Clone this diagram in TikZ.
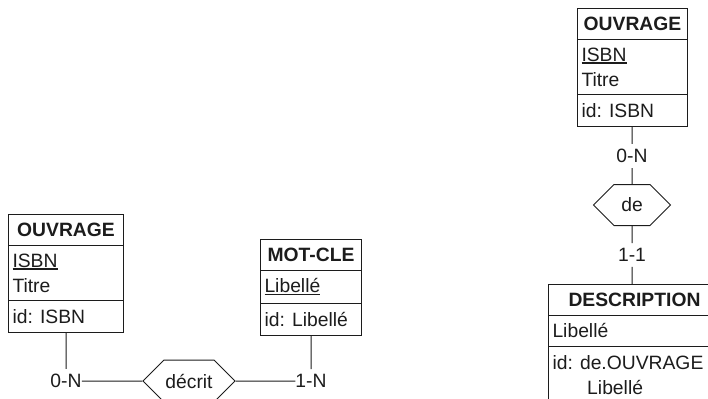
\documentclass[tikz,border=0pt]{standalone}
\usepackage{fontspec}
\setmainfont{Liberation Sans}
\usetikzlibrary{shapes.multipart,shapes.symbols}
\definecolor{ink}{HTML}{1C1C1C}
\newcommand{\keyattr}[1]{\setbox0\hbox{#1}\rlap{\rule[-2.6bp]{\wd0}{1.3bp}}\box0}
\tikzset{
  entity/.style={rectangle split, rectangle split parts=3, draw=ink, line width=1bp,
    rectangle split part align={center,left,left}, align=left, anchor=north west,
    inner xsep=4bp, inner ysep=8bp, font=\fontsize{19.3bp}{25bp}\selectfont, text=ink},
  relation/.style={signal, signal to=west and east, draw=ink, line width=1bp,
    inner sep=0pt, font=\fontsize{19.3bp}{25bp}\selectfont, text=ink},
  card/.style={inner xsep=0pt, inner ysep=5bp, font=\fontsize{19.3bp}{25bp}\selectfont, text=ink},
  link/.style={draw=ink, line width=1bp},
}

\begin{document}
\begin{tikzpicture}[x=1bp,y=-1bp]
\useasboundingbox (0,0) rectangle (708,398);
\clip (0,0) rectangle (708,398);

% OUVRAGE - decrit - MOT-CLE
\node[entity, minimum width=115bp] (ouv1) at (8,214) {\textbf{OUVRAGE}
  \nodepart{two}\keyattr{ISBN}\\Titre
  \nodepart{three}id: ISBN};
\node[entity, minimum width=101bp] (mot) at (260,239) {\textbf{MOT-CLE}
  \nodepart{two}\keyattr{Libellé}
  \nodepart{three}id: Libellé};
\node[relation, minimum width=92bp, minimum height=42bp] (decrit) at (189,381) {décrit};
\node[card] (c1) at (ouv1.south |- decrit) {0-N};
\node[card] (c2) at (mot.south |- decrit) {1-N};
\draw[link] (ouv1) -- (c1) -- (decrit) -- (c2) -- (mot);

% OUVRAGE - de - DESCRIPTION
\node[entity, minimum width=110bp] (ouv2) at (577,8) {\textbf{OUVRAGE}
  \nodepart{two}\keyattr{ISBN}\\Titre
  \nodepart{three}id: ISBN};
\node[relation, minimum width=77bp, minimum height=41bp] (de) at (632,205) {de};
\node[card] (c3) at (632,156) {0-N};
\node[card] (c4) at (632,255) {1-1};
\node[entity, minimum width=172bp] (desc) at (548,284) {\textbf{DESCRIPTION}
  \nodepart{two}Libellé
  \nodepart{three}id: de.OUVRAGE\\\hspace*{1.8em}Libellé};
\draw[link] (ouv2) -- (c3) -- (de) -- (c4) -- (c4 |- desc.north);

\end{tikzpicture}
\end{document}
